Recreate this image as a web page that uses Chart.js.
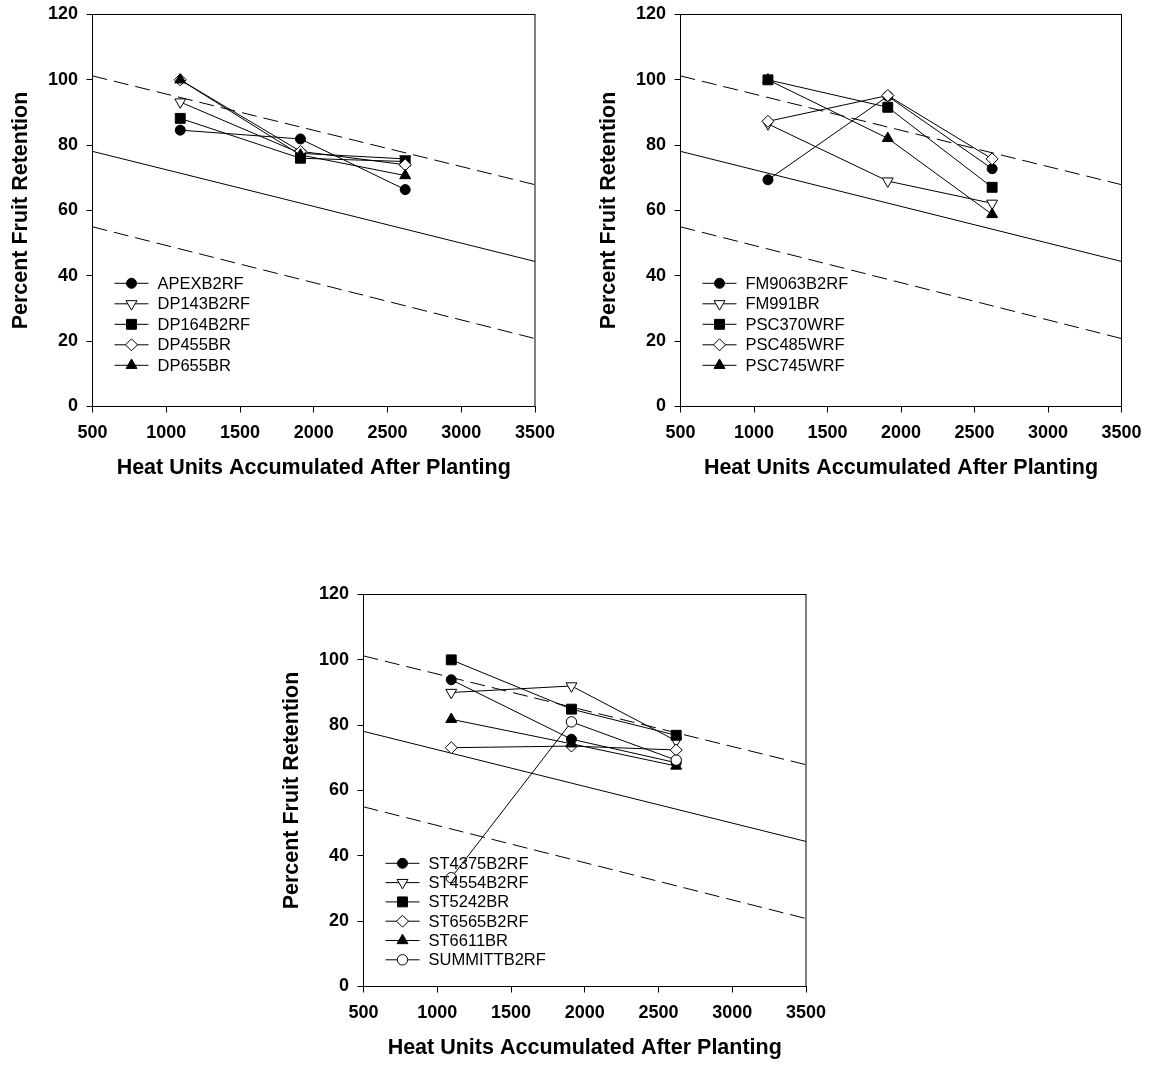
<!DOCTYPE html>
<html><head><meta charset="utf-8">
<script src="https://cdn.jsdelivr.net/npm/chart.js@4/dist/chart.umd.min.js"></script>
<style>
html,body{margin:0;padding:0;background:#fff;overflow:hidden;width:1151px;height:1065px;}
.p{position:absolute;width:560px;height:500px;}
canvas{display:block;}
</style></head><body>
<div class="p" style="left:0;top:0"><canvas id="c1" width="560" height="500"></canvas></div>
<div class="p" style="left:588px;top:0"><canvas id="c2" width="560" height="500"></canvas></div>
<div class="p" style="left:271px;top:580px"><canvas id="c3" width="560" height="500"></canvas></div>
<script>
// ---------- data ----------
const heatUnits = [1095, 1910, 2620];
const xTickValues = [500, 1000, 1500, 2000, 2500, 3000, 3500];
const yTickValues = [0, 20, 40, 60, 80, 100, 120];

// regression line and band (x at ends of axis)
const regX = [500, 3500];
const fitLine = [78.1, 44.4];
const upperBand = [101.2, 67.9];
const lowerBand = [55.0, 20.8];

// panel 1
const panel1Names = ['APEXB2RF', 'DP143B2RF', 'DP164B2RF', 'DP455BR', 'DP655BR'];
const APEXB2RF  = [84.6, 81.9, 66.4];
const DP143B2RF = [93.2, 77.5, 75.8];
const DP164B2RF = [88.2, 76.0, 75.0];
const DP455BR   = [100.0, 78.1, 74.0];
const DP655BR   = [100.0, 77.0, 70.7];

// panel 2
const panel2Names = ['FM9063B2RF', 'FM991BR', 'PSC370WRF', 'PSC485WRF', 'PSC745WRF'];
const FM9063B2RF = [69.4, 95.0, 72.8];
const FM991BR    = [86.5, 69.0, 62.2];
const PSC370WRF  = [100.0, 91.6, 67.1];
const PSC485WRF  = [87.3, 95.2, 75.8];
const PSC745WRF  = [100.0, 82.1, 58.8];

// panel 3
const panel3Names = ['ST4375B2RF', 'ST4554B2RF', 'ST5242BR', 'ST6565B2RF', 'ST6611BR', 'SUMMITTB2RF'];
const ST4375B2RF  = [93.9, 75.7, 68.5];
const ST4554B2RF  = [90.0, 92.0, 75.2];
const ST5242BR    = [100.0, 84.9, 76.9];
const ST6565B2RF  = [73.1, 73.6, 72.4];
const ST6611BR    = [81.8, 74.3, 67.5];
const SUMMITTB2RF = [33.3, 81.0, 69.3];

const xTitle = 'Heat Units Accumulated After Planting';
const yTitle = 'Percent Fruit Retention';

// ---------- styles ----------
const FONT = '"Liberation Sans", Arial, Helvetica, sans-serif';
const markerStyles = [
  {pointStyle: 'circle',   rotation: 0,   fill: '#000', radius: 5},
  {pointStyle: 'triangle', rotation: 180, fill: '#fff', radius: 6.3},
  {pointStyle: 'rect',     rotation: 0,   fill: '#000', radius: 7},
  {pointStyle: 'rectRot',  rotation: 0,   fill: '#fff', radius: 6},
  {pointStyle: 'triangle', rotation: 0,   fill: '#000', radius: 6.3},
  {pointStyle: 'circle',   rotation: 0,   fill: '#fff', radius: 5.2}
];

function toXY(xs, ys) { return xs.map((x, i) => ({x: x, y: ys[i]})); }

function refDatasets() {
  const base = {showLine: true, borderColor: '#000', borderWidth: 1, pointRadius: 0, pointHoverRadius: 0, order: 100, isRef: true};
  return [
    Object.assign({}, base, {label: 'fit', data: toXY(regX, fitLine)}),
    Object.assign({}, base, {label: 'upper', data: toXY(regX, upperBand), borderDash: [15, 7]}),
    Object.assign({}, base, {label: 'lower', data: toXY(regX, lowerBand), borderDash: [15, 7]})
  ];
}

function seriesDatasets(names, values) {
  return names.map((n, i) => {
    const m = markerStyles[i];
    return {
      label: n, data: toXY(heatUnits, values[i]), showLine: true,
      borderColor: '#000', borderWidth: 1,
      pointStyle: m.pointStyle, pointRotation: m.rotation, pointRadius: m.radius,
      pointHoverRadius: m.radius, pointBackgroundColor: m.fill, pointBorderColor: '#000',
      pointBorderWidth: 1, order: 50 - i
    };
  });
}

const boxPlugin = {
  id: 'box',
  afterDatasetsDraw(chart) {
    const a = chart.chartArea, ctx = chart.ctx;
    ctx.save();
    ctx.strokeStyle = '#000'; ctx.lineWidth = 1;
    ctx.strokeRect(a.left, a.top, a.right - a.left, a.bottom - a.top);
    ctx.restore();
  }
};

const legendPlugin = {
  id: 'inLegend',
  afterDatasetsDraw(chart, args, opts) {
    const a = chart.chartArea, ctx = chart.ctx;
    const sets = chart.data.datasets.filter(d => !d.isRef);
    ctx.save();
    sets.forEach((d, i) => {
      const y = a.top + opts.top + i * opts.spacing;
      const x0 = a.left + opts.lineStart, x1 = a.left + opts.lineEnd, xm = (x0 + x1) / 2;
      ctx.strokeStyle = '#000'; ctx.lineWidth = 1; ctx.setLineDash([]);
      ctx.beginPath(); ctx.moveTo(x0, y); ctx.lineTo(x1, y); ctx.stroke();
      ctx.fillStyle = d.pointBackgroundColor; ctx.strokeStyle = '#000';
      Chart.helpers.drawPoint(ctx, {pointStyle: d.pointStyle, rotation: d.pointRotation, radius: d.pointRadius, borderWidth: 1}, xm, y);
      ctx.fillStyle = '#000';
      ctx.font = opts.fontSize + 'px ' + FONT;
      ctx.textBaseline = 'middle'; ctx.textAlign = 'left';
      ctx.fillText(d.label, a.left + opts.textX, y + 1);
    });
    ctx.restore();
  }
};

function makeChart(id, names, values, legendSpacing, rightPad) {
  const datasets = refDatasets().concat(seriesDatasets(names, values));
  const axisCommon = {
    grid: {display: true, drawOnChartArea: false, drawTicks: true, tickLength: 6, color: '#000', lineWidth: 1},
    border: {display: true, color: '#000', width: 1}
  };
  return new Chart(document.getElementById(id), {
    type: 'scatter',
    data: {datasets: datasets},
    options: {
      responsive: false, animation: false, devicePixelRatio: 1,
      layout: {padding: {top: 14.5, right: rightPad, left: 0, bottom: 0}},
      plugins: {
        legend: {display: false}, tooltip: {enabled: false},
        inLegend: {top: 268.8, spacing: legendSpacing, lineStart: 22, lineEnd: 56, textX: 65, fontSize: 16.5}
      },
      scales: {
        x: Object.assign({}, axisCommon, {
          type: 'linear', min: 500, max: 3500,
          afterBuildTicks: s => { s.ticks = xTickValues.map(v => ({value: v})); },
          afterFit: s => { s.height = 93.5; s.paddingLeft = 0; s.paddingRight = 0; },
          ticks: {color: '#000', padding: 10, maxRotation: 0, autoSkip: false, font: {family: FONT, size: 18, weight: 'bold'}, callback: v => String(v)},
          title: {display: true, text: xTitle, color: '#000', padding: {top: 0, bottom: 19.4}, font: {family: FONT, size: 21.5, weight: 'bold'}}
        }),
        y: Object.assign({}, axisCommon, {
          type: 'linear', min: 0, max: 120,
          afterBuildTicks: s => { s.ticks = yTickValues.map(v => ({value: v})); },
          afterFit: s => { s.width = 92.5; s.paddingTop = 0; s.paddingBottom = 0; },
          ticks: {color: '#000', padding: 8.5, autoSkip: false, font: {family: FONT, size: 18, weight: 'bold'}, callback: v => String(v)},
          title: {display: true, text: yTitle, color: '#000', padding: {top: 8, bottom: 0}, font: {family: FONT, size: 21.5, weight: 'bold'}}
        })
      }
    },
    plugins: [boxPlugin, legendPlugin]
  });
}

makeChart('c1', panel1Names, [APEXB2RF, DP143B2RF, DP164B2RF, DP455BR, DP655BR], 20.5, 25);
makeChart('c2', panel2Names, [FM9063B2RF, FM991BR, PSC370WRF, PSC485WRF, PSC745WRF], 20.5, 26.5);
makeChart('c3', panel3Names, [ST4375B2RF, ST4554B2RF, ST5242BR, ST6565B2RF, ST6611BR, SUMMITTB2RF], 19.3, 25);
</script>
</body></html>
